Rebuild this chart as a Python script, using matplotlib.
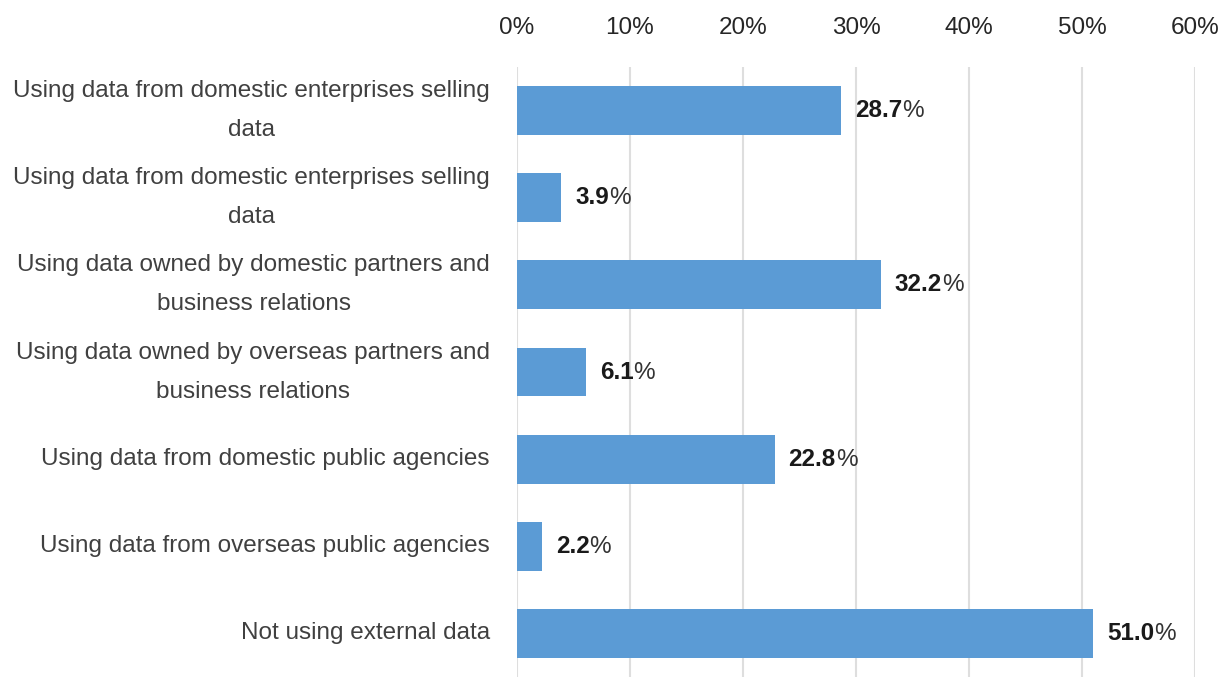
import matplotlib.pyplot as plt
import numpy as np

plt.rcParams['font.family'] = ['Liberation Sans', 'DejaVu Sans']

categories = [
    "Using data from domestic enterprises selling\ndata",
    "Using data from domestic enterprises selling\ndata",
    "Using data owned by domestic partners and\nbusiness relations",
    "Using data owned by overseas partners and\nbusiness relations",
    "Using data from domestic public agencies",
    "Using data from overseas public agencies",
    "Not using external data",
]
shares = [28.7, 3.9, 32.2, 6.1, 22.8, 2.2, 51.0]
ticks = [0, 10, 20, 30, 40, 50, 60]

bar_color = '#5B9BD5'
grid_color = '#DEDEDE'

fig = plt.figure(figsize=(12.3, 6.77), dpi=100)
ax = fig.add_axes([0.4203, 0.0, 0.5512, 0.901])

y = np.arange(len(categories))
ax.barh(y, shares, height=0.56, color=bar_color, zorder=2)

ax.set_xlim(0, 60)
ax.set_ylim(len(categories) - 0.5, -0.5)
ax.set_xticks(ticks)
ax.set_xticklabels([f"{t}%" for t in ticks], fontsize=17.5, color='#262626')
ax.xaxis.tick_top()
ax.tick_params(axis='x', length=0, pad=20)
ax.set_yticks([])
for s in ax.spines.values():
    s.set_visible(False)
ax.grid(axis='x', color=grid_color, linewidth=1.5, zorder=0)

# category labels: right edge aligned, lines centred within each block
for yi, cat in zip(y, categories):
    ax.annotate(cat, xy=(0, yi), xycoords=('axes fraction', 'data'),
                xytext=(-27, 0), textcoords='offset pixels',
                ha='right', va='center', multialignment='center',
                fontsize=17.5, color='#404040', linespacing=2.0)

# value labels: bold number followed by a plain percent sign
for yi, v in zip(y, shares):
    num = ax.annotate(f"{v:.1f}", xy=(v, yi), xytext=(14, 0),
                      textcoords='offset pixels', ha='left', va='center',
                      fontsize=17.5, fontweight='bold', color='#1a1a1a')
    ax.annotate('%', xy=(1, 0), xycoords=num, ha='left', va='bottom',
                fontsize=17.5, color='#333333')

fig.savefig('out.png', dpi=100)
